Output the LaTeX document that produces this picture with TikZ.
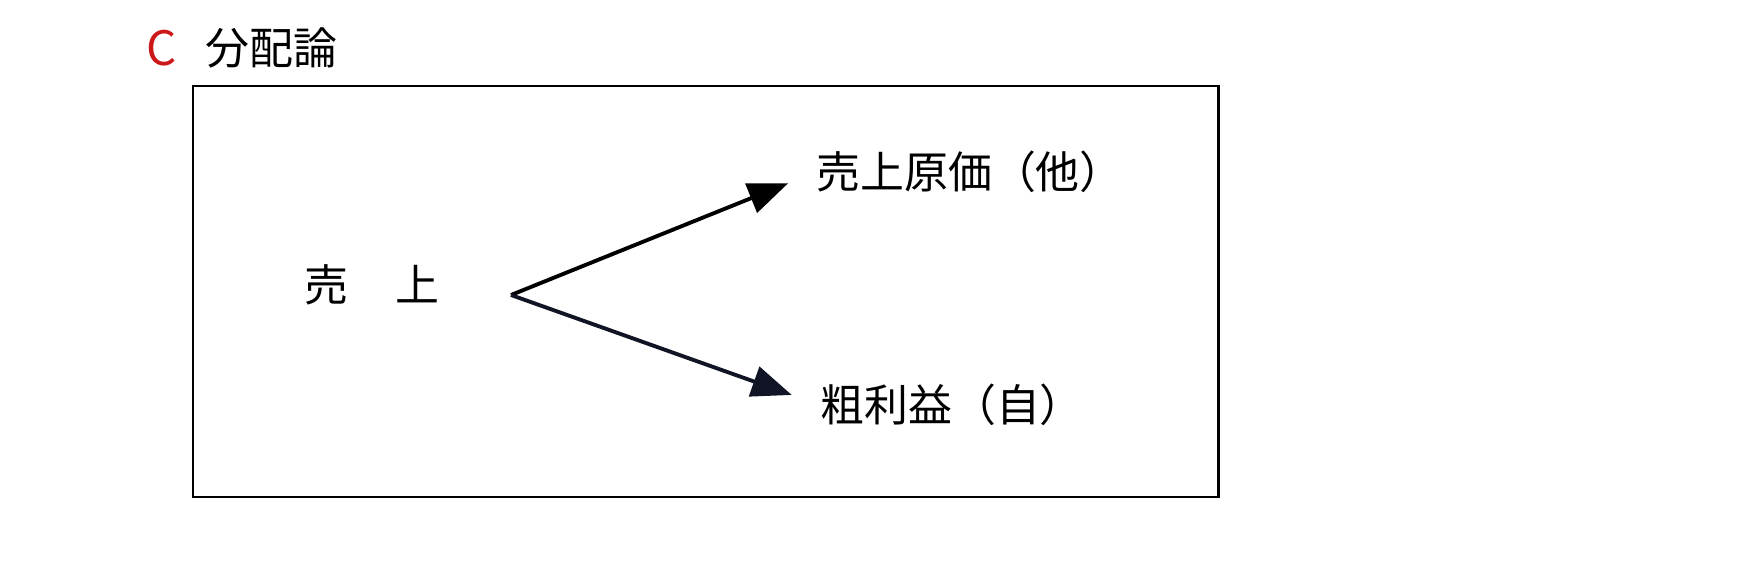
\documentclass[tikz,border=0pt]{standalone}
\usepackage{fontspec}
\setmainfont{Noto Sans CJK JP}
\usetikzlibrary{arrows.meta}
\definecolor{headred}{RGB}{204,24,24}

\begin{document}
\begin{tikzpicture}[x=0.02cm, y=-0.02cm,
    lbl/.style={inner sep=0pt, font=\fontsize{25}{28}\selectfont},
    arr/.style={line width=2.2pt, -{Triangle[length=0.8cm, width=0.62cm]}, shorten >=0.6cm}]
  \useasboundingbox (0,0) rectangle (1755,588);
  \node[lbl, text=headred, font=\fontsize{27}{30}\selectfont] (mark) at (162,48) {C};
  \node[lbl, anchor=west] (title) at (205,48) {分配論};
  \draw [line width=1.7pt] (193,86) rectangle (1218,497);
  \node[lbl] (sales) at (372,285) {売\hspace{0.95cm}上};
  \coordinate (fork) at (511,295);
  \node[lbl, anchor=west] (cost) at (816,172) {売上原価（他）};
  \node[lbl, anchor=west] (profit) at (820,405) {粗利益（自）};
  \draw [arr] (fork) -- (cost.west);
  \draw [arr, color={rgb,255:red,16;green,20;blue,36}] (fork) -- (profit.west);
\end{tikzpicture}
\end{document}
